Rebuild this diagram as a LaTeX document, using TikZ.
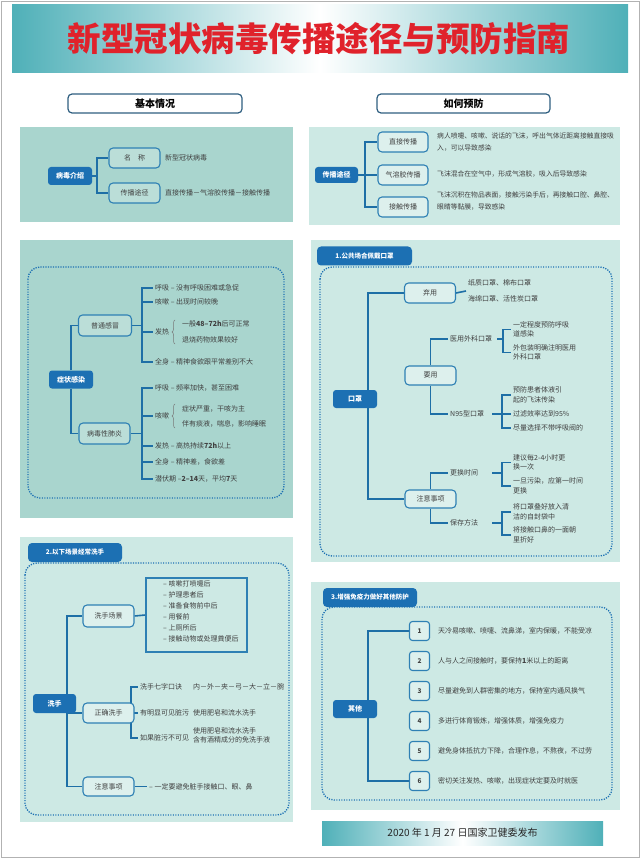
\documentclass[tikz,border=0pt]{standalone}
\usepackage{fontspec}
\setmainfont{Noto Sans CJK SC}
\usetikzlibrary{decorations.pathreplacing}
\pgfdeclarelayer{panels}
\pgfdeclarelayer{lines}
\pgfsetlayers{panels,lines,main}
\definecolor{tealA}{HTML}{A9D5CE}
\definecolor{tealB}{HTML}{CDE9E4}
\definecolor{boxA}{HTML}{BBDED8}
\definecolor{boxB}{HTML}{DDF0ED}
\definecolor{bluef}{HTML}{1C70B3}
\definecolor{linec}{HTML}{1E6FA6}
\definecolor{bdr}{HTML}{2E80B4}
\definecolor{txtc}{HTML}{404040}
\definecolor{titler}{HTML}{E0222B}
\definecolor{barteal}{HTML}{4FB0B8}
\definecolor{hdrb}{HTML}{2F5F80}
\tikzset{
  filled/.style={fill=bluef, rounded corners=3, text=white, font=\fontsize{7}{8}\selectfont\bfseries, minimum width=44, minimum height=18, inner sep=0},
  obox/.style={draw=bdr, line width=1.1, rounded corners=4, fill=#1, minimum width=51, minimum height=20, inner sep=0, font=\fontsize{7}{8}\selectfont, text=txtc},
  obox/.default=boxA,
  conn/.style={draw=linec, line width=1.6},
  txt/.style={font=\fontsize{7}{10}\selectfont, text=txtc, inner sep=2, align=left, anchor=west},
  txttwo/.style={txt, font=\fontsize{7}{9.5}\selectfont},
  dotbox/.style={draw=bluef, line width=1.3, dash pattern=on 1.2pt off 1.3pt, rounded corners=12},
  tabbox/.style={fill=bluef, rounded corners=4, text=white, font=\fontsize{6.5}{7}\selectfont\bfseries, inner sep=0, minimum height=19},
  hdr/.style={draw=hdrb, line width=1.2, fill=white, rounded corners=4, font=\fontsize{10}{11}\selectfont\bfseries, minimum height=19, inner sep=0},
  nbox/.style={draw=bdr, line width=1.1, rounded corners=3, fill=boxB, minimum width=20, minimum height=19, inner sep=0, font=\fontsize{6.5}{7}\selectfont\bfseries, text=txtc},
  brc/.style={draw=txtc!70, line width=0.5, decorate, decoration={brace, amplitude=3pt}}
}
\begin{document}
\begin{tikzpicture}[x=1pt,y=-1pt]
\useasboundingbox (0,0) rectangle (640,858);
\begin{pgfonlayer}{panels}
\draw[gray!60, line width=0.8] (1,1) rectangle (639,857);
\shade[left color=barteal, right color=barteal, middle color=white] (12,5) rectangle (628,73);
\fill[tealA] (20,127) rectangle (293,222);
\fill[tealB] (309,127) rectangle (620,225);
\fill[tealA] (20,240) rectangle (293,518);
\draw[dotbox] (28,267) rectangle (284,498);
\fill[tealB] (311,240) rectangle (620,562);
\draw[dotbox] (320,267) rectangle (612,556);
\fill[tealB] (20,537) rectangle (293,822);
\draw[dotbox] (25,563) rectangle (289,815);
\fill[tealB] (311,582) rectangle (620,810);
\draw[dotbox] (322,607) rectangle (612,800);
\shade[left color=barteal, right color=barteal, middle color=white] (322,821) rectangle (603,845);
\end{pgfonlayer}

% title and headers
\node[font=\fontsize{33.5}{36}\selectfont\bfseries, text=titler] (title) at (319,39) {新型冠状病毒传播途径与预防指南};
\node[hdr, minimum width=174] (h1) at (155,103.5) {基本情况};
\node[hdr, minimum width=173] (h2) at (463.5,103.5) {如何预防};

% panel 1 left
\node[filled] (bd) at (70,176) {病毒介绍};
\node[obox] (mc) at (134.5,158) {名\quad 称};
\node[obox] (tj) at (134.5,193) {传播途径};
\node[txt] (mct) at (163,158) {新型冠状病毒};
\node[txt] (tjt) at (163,193) {直接传播－气溶胶传播－接触传播};
\coordinate (k1) at (97,176);

% panel 1 right
\node[filled, minimum width=43, minimum height=16] (cb) at (336.5,175) {传播途径};
\node[obox=boxB, minimum width=50] (d1) at (403,142) {直接传播};
\node[obox=boxB, minimum width=50] (d2) at (403,175) {气溶胶传播};
\node[obox=boxB, minimum width=50] (d3) at (403,207) {接触传播};
\node[txt, font=\fontsize{6.8}{11.5}\selectfont] (d1t) at (435,142) {病人喷嚏、咳嗽、说话的飞沫，呼出气体近距离接触直接吸\\入，可以导致感染};
\node[txt, font=\fontsize{6.8}{10}\selectfont] (d2t) at (435,174) {飞沫混合在空气中，形成气溶胶，吸入后导致感染};
\node[txt, font=\fontsize{6.8}{11.5}\selectfont] (d3t) at (435,201) {飞沫沉积在物品表面，接触污染手后，再接触口腔、鼻腔、\\眼睛等黏膜，导致感染};
\coordinate (k2) at (365,175);

% symptoms
\node[filled] (zz) at (71,379.5) {症状感染};
\node[obox, minimum width=53, minimum height=21] (pt) at (105,325.5) {普通感冒};
\node[obox, minimum height=21] (by) at (104.5,433.5) {病毒性肺炎};
\coordinate (k3) at (142,325.5);
\node[txt] (p1) at (153,288) {呼吸 – 没有呼吸困难或急促};
\node[txt] (p2) at (153,302) {咳嗽 – 出现时间较晚};
\node[txt] (p3) at (153,332) {发热};
\node[txt] (p4) at (153,362) {全身 – 精神食欲跟平常差别不大};
\draw[brc] (175,344) -- (175,320);
\node[txt] (p31) at (180,324) {一般\textbf{48–72h}后可正常};
\node[txt] (p32) at (180,340) {退烧药物效果较好};
\coordinate (k4) at (142,433.5);
\node[txt] (v1) at (153,388) {呼吸 – 频率加快，甚至困难};
\node[txt] (v2) at (153,416) {咳嗽};
\node[txt] (v3) at (153,446) {发热 – 高热持续\textbf{72h}以上};
\node[txt] (v4) at (153,462) {全身 – 精神差，食欲差};
\node[txt] (v5) at (153,479) {潜伏期 –\textbf{2–14}天，平均\textbf{7}天};
\draw[brc] (175,428) -- (175,404);
\node[txt] (v21) at (180,409) {症状严重，干咳为主};
\node[txt] (v22) at (180,424) {伴有痰液，喘息，影响睡眠};

% masks
\node[tabbox, minimum width=95] (tab1) at (364.5,256) {1.公共场合佩戴口罩};
\node[filled] (kz) at (355,399) {口罩};
\node[obox=boxB] (xy) at (430,293) {弃用};
\node[obox=boxB, minimum height=19] (yy) at (430.5,375.5) {要用};
\node[obox=boxB, minimum height=18] (zy) at (430.5,499) {注意事项};
\node[txt, font=\fontsize{7}{16}\selectfont] (xyt) at (466,291) {纸质口罩、棉布口罩\\海绵口罩、活性炭口罩};
\node[txt] (yw) at (448,339) {医用外科口罩};
\node[txt] (n95) at (448,414) {N95型口罩};
\coordinate (k5) at (503,339);
\node[txttwo] (y1) at (511,329.5) {一定程度预防呼吸\\道感染};
\node[txttwo] (y2) at (511,352.5) {外包装明确注明医用\\外科口罩};
\coordinate (k6) at (502,414);
\node[txttwo] (w1) at (511,395) {预防患者体液引\\起的飞沫传染};
\node[txt] (w2) at (511,414) {过滤效率达到95\%};
\node[txt] (w3) at (511,428) {尽量选择不带呼吸阀的};
\node[txt] (gh) at (448,473) {更换时间};
\node[txt] (bc) at (448,523) {保存方法};
\coordinate (k7) at (502,473);
\node[txttwo] (g1) at (511,462.5) {建议每2-4小时更\\换一次};
\node[txttwo] (g2) at (511,486) {一旦污染，应第一时间\\更换};
\coordinate (k8) at (502,523);
\node[txttwo] (s1) at (511,512) {将口罩叠好放入清\\洁的自封袋中};
\node[txttwo] (s2) at (511,535) {将接触口鼻的一面朝\\里折好};

% hand washing
\node[tabbox, minimum width=94] (tab2) at (75,552.5) {2.以下场景经常洗手};
\node[filled, minimum width=43, minimum height=19] (xs) at (54.5,703.5) {洗手};
\node[obox=boxB, minimum height=22] (cj) at (108.5,616) {洗手场景};
\node[draw=bdr, line width=1.2, minimum width=101, minimum height=74, inner sep=0] (lb) at (196.5,615) {};
\node[txt, font=\fontsize{7}{11}\selectfont] (lbt) at (161,611) {– 咳嗽打喷嚏后\\– 护理患者后\\– 准备食物前中后\\– 用餐前\\– 上厕所后\\– 接触动物或处理粪便后};
\node[obox=boxB] (zq) at (108.5,713) {正确洗手};
\node[obox=boxB, minimum height=19] (zs) at (108.5,786.5) {注意事项};
\coordinate (k9) at (67,703.5);
\coordinate (k10) at (131,713);
\node[txt] (q1) at (138,687) {洗手七字口诀};
\node[txt] (q1r) at (191,687) {内－外－夹－弓－大－立－腕};
\node[txt] (q2) at (138,713) {有明显可见脏污};
\node[txt] (q2r) at (191,713) {使用肥皂和流水洗手};
\node[txt] (q3) at (138,738) {如果脏污不可见};
\node[txt, font=\fontsize{7}{9}\selectfont] (q3r) at (191,735.5) {使用肥皂和流水洗手\\含有酒精成分的免洗手液};
\node[txt] (zst) at (147,786.5) {– 一定要避免脏手接触口、眼、鼻};

% other protection
\node[tabbox, minimum width=94] (tab3) at (370,597.5) {3.增强免疫力做好其他防护};
\node[filled] (qt) at (355,709) {其他};
\coordinate (k11) at (368,709);
\node[nbox] (m1) at (419.5,631) {1};
\node[nbox] (m2) at (419.5,661) {2};
\node[nbox] (m3) at (419.5,691) {3};
\node[nbox] (m4) at (419.5,721) {4};
\node[nbox] (m5) at (419.5,751) {5};
\node[nbox] (m6) at (419.5,781) {6};
\node[txt] (r1) at (436,631) {天冷易咳嗽、喷嚏、流鼻涕，室内保暖，不能受凉};
\node[txt] (r2) at (436,661) {人与人之间接触时，要保持\textbf{1}米以上的距离};
\node[txt] (r3) at (436,691) {尽量避免到人群密集的地方，保持室内通风换气};
\node[txt] (r4) at (436,721) {多进行体育锻炼，增强体质，增强免疫力};
\node[txt] (r5) at (436,751) {避免身体抵抗力下降，合理作息，不熬夜，不过劳};
\node[txt] (r6) at (436,781) {密切关注发热、咳嗽，出现症状定要及时就医};

% footer
\node[font=\fontsize{10}{11}\selectfont, text=black!85] (ft) at (462.5,833) {2020 年 1 月 27 日国家卫健委发布};

\begin{pgfonlayer}{lines}
\draw[conn] (bd.east) -- (k1);
\draw[conn] (k1) |- (mc.west);
\draw[conn] (k1) |- (tj.west);
\draw[conn] (cb.east) -- (k2);
\draw[conn] (k2) |- (d1.west);
\draw[conn] (k2) -- (d2.west);
\draw[conn] (k2) |- (d3.west);
\draw[conn] (zz.north) |- (pt.west);
\draw[conn] (zz.south) |- (by.west);
\draw[conn] (pt.east) -- (k3);
\foreach \n in {p1,p2,p3,p4} \draw[conn] (k3) |- (\n.west);
\draw[conn] (by.east) -- (k4);
\foreach \n in {v1,v2,v3,v4,v5} \draw[conn] (k4) |- (\n.west);
\draw[conn] ([xshift=13pt]kz.north) |- (xy.west);
\draw[conn] ([xshift=13pt]kz.south) |- (zy.west);
\draw[conn] (xy.east) -- (xyt.west);
\draw[conn] (yy.north) |- (yw.west);
\draw[conn] (yy.south) |- (n95.west);
\draw[conn] ([xshift=3pt]yw.east) -- (k5);
\draw[conn] (k5) |- (y1.west);
\draw[conn] (k5) |- (y2.west);
\draw[conn] ([xshift=6pt]n95.east) -- (k6);
\foreach \n in {w1,w2,w3} \draw[conn] (k6) |- (\n.west);
\draw[conn] (zy.north) |- (gh.west);
\draw[conn] (zy.south) |- (bc.west);
\draw[conn] ([xshift=12pt]gh.east) -- (k7);
\draw[conn] (k7) |- (g1.west);
\draw[conn] (k7) |- (g2.west);
\draw[conn] ([xshift=12pt]bc.east) -- (k8);
\draw[conn] (k8) |- (s1.west);
\draw[conn] (k8) |- (s2.west);
\draw[conn] (k9) |- (cj.west);
\draw[conn] (k9) |- (zq.west);
\draw[conn] (k9) |- (zs.west);
\draw[conn] (cj.east) -- (lb.west);
\draw[conn] (k10) |- (q1.west);
\draw[conn] (k10) -- (q2.west);
\draw[conn] (k10) |- (q3.west);
\draw[conn] (zs.east) -- (zst.west);
\draw[conn] (k11) |- (m1.west);
\draw[conn] (k11) |- (m6.west);
\end{pgfonlayer}
\end{tikzpicture}
\end{document}
